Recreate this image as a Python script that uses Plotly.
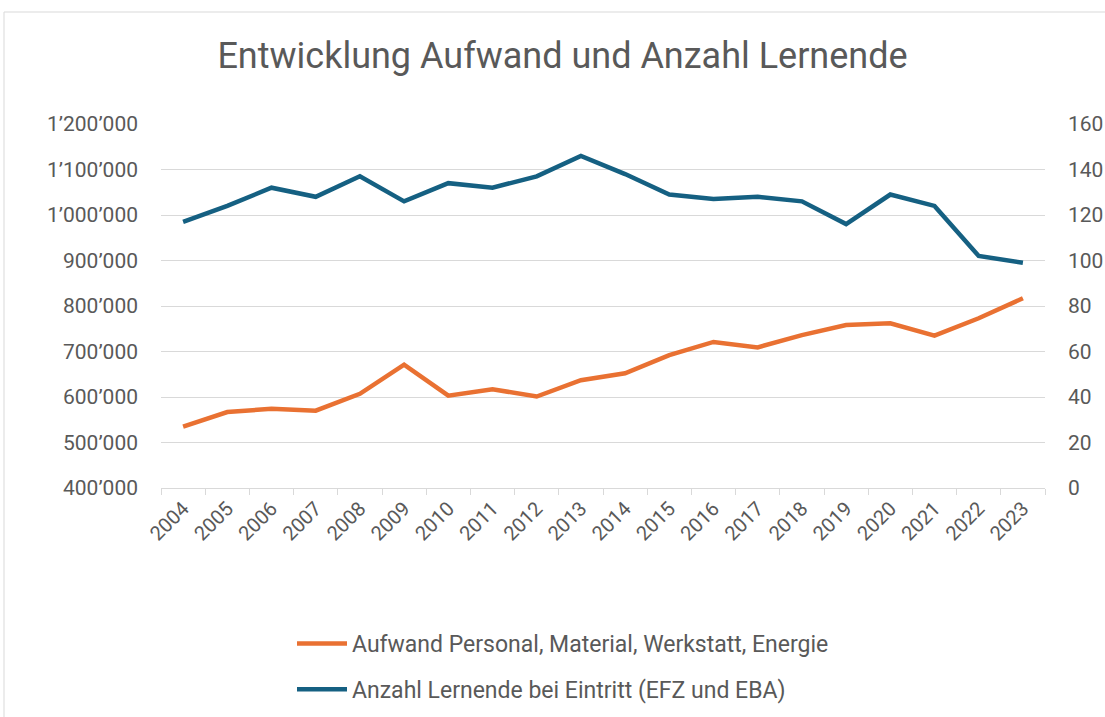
import plotly.graph_objects as go

years = [str(y) for y in range(2004, 2024)]
aufwand = [535000, 567000, 574000, 570000, 607000, 671000, 603000, 617000, 601000, 637000,
           652000, 692000, 721000, 709000, 736000, 758000, 762000, 735000, 773000, 817000]
lernende = [117, 124, 132, 128, 137, 126, 134, 132, 137, 146,
            138, 129, 127, 128, 126, 116, 129, 124, 102, 99]

name_aufwand = "Aufwand Personal, Material, Werkstatt, Energie"
name_lernende = "Anzahl Lernende bei Eintritt (EFZ und EBA)"
title = "Entwicklung Aufwand und Anzahl Lernende"

ORANGE = "#E97132"
BLUE = "#156082"
TXT = "#595959"
GRID = "#D9D9D9"
FONT = "Roboto, Liberation Sans, sans-serif"

W, H = 1105, 717
L, R, T, B = 161, 1045, 124, 488
pw, ph = R - L, B - T


def px_x(p):
    return (p - L) / pw


def px_y(p):
    return (B - p) / ph


fig = go.Figure()
fig.add_trace(go.Scatter(x=years, y=aufwand, name=name_aufwand, mode="lines",
                         line=dict(color=ORANGE, width=4.5), yaxis="y", legendgroup="a"))
fig.add_trace(go.Scatter(x=years, y=lernende, name=name_lernende, mode="lines",
                         line=dict(color=BLUE, width=4.5), yaxis="y2", legendgroup="b"))

fig.update_layout(
    width=W, height=H, autosize=False,
    margin=dict(l=L, r=W - R, t=T, b=H - B, pad=0, autoexpand=False),
    paper_bgcolor="white", plot_bgcolor="white",
    separators=".’",
    font=dict(family=FONT, size=21, color=TXT),
    title=dict(text=title, x=562.5 / W, xanchor="center",
               y=1 - 55 / H, yanchor="middle",
               font=dict(family=FONT, size=36, color=TXT)),
    xaxis=dict(type="category", range=[-0.5, len(years) - 0.5], automargin=False,
               tickson="boundaries", ticks="outside", ticklen=6,
               tickcolor=GRID, showline=True, linecolor=GRID, linewidth=1,
               showgrid=False, tickangle=-45, tickfont=dict(size=20, color=TXT)),
    yaxis=dict(range=[400000, 1200000], dtick=100000, tickformat=",d", automargin=False,
               showgrid=True, gridcolor=GRID, gridwidth=1, zeroline=False,
               showline=False, ticks="", ticklabelstandoff=22,
               tickfont=dict(size=21, color=TXT)),
    yaxis2=dict(range=[0, 160], dtick=20, overlaying="y", side="right", automargin=False,
                showgrid=False, zeroline=False, showline=False, ticks="",
                ticklabelstandoff=22, tickfont=dict(size=21, color=TXT)),
    legend=dict(orientation="v", xref="container", yref="container",
                x=292 / W, xanchor="left", y=1 - 622 / H, yanchor="top",
                traceorder="grouped", tracegroupgap=13,
                font=dict(family=FONT, size=23, color=TXT), itemwidth=50,
                bgcolor="rgba(0,0,0,0)"),
    showlegend=True,
)

fig.add_shape(type="rect", xref="paper", yref="paper",
              x0=px_x(4), x1=px_x(1115), y0=px_y(730), y1=px_y(12),
              line=dict(color=GRID, width=1), fillcolor="rgba(0,0,0,0)", layer="below")

fig.write_html("out.html", config={"displayModeBar": False},
               post_script="document.body.style.margin='0';")
